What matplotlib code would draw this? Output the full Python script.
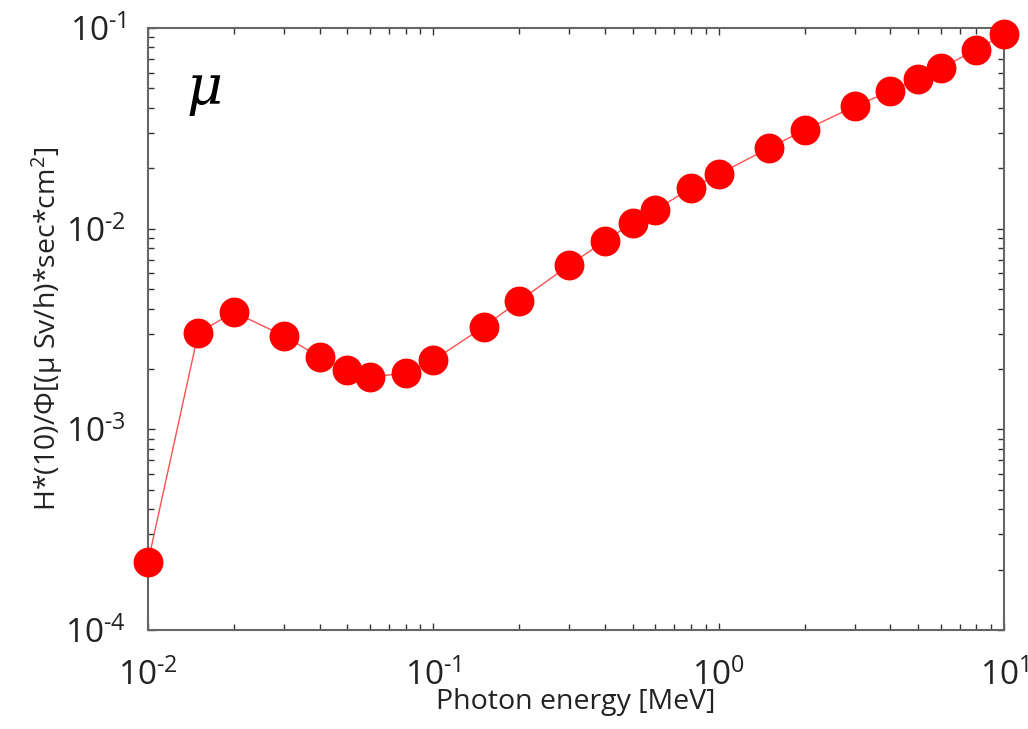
import matplotlib.pyplot as plt
from matplotlib.ticker import LogLocator, FuncFormatter, NullFormatter
import numpy as np

plt.rcParams['font.family'] = ['Open Sans', 'DejaVu Sans']
plt.rcParams['mathtext.fontset'] = 'custom'
plt.rcParams['mathtext.rm'] = 'Open Sans'
plt.rcParams['mathtext.it'] = 'Open Sans:italic'

# photon energy [MeV] and H*(10)/Phi conversion coefficients
energy = [0.01, 0.015, 0.02, 0.03, 0.04, 0.05, 0.06, 0.08, 0.1, 0.15, 0.2,
          0.3, 0.4, 0.5, 0.6, 0.8, 1, 1.5, 2, 3, 4, 5, 6, 8, 10]
coef = [2.18e-4, 3.02e-3, 3.84e-3, 2.92e-3, 2.29e-3, 1.97e-3, 1.82e-3, 1.91e-3,
        2.21e-3, 3.24e-3, 4.36e-3, 6.6e-3, 8.7e-3, 1.07e-2, 1.24e-2, 1.59e-2,
        1.87e-2, 2.52e-2, 3.1e-2, 4.07e-2, 4.85e-2, 5.6e-2, 6.3e-2, 7.8e-2, 9.3e-2]

fig = plt.figure(figsize=(10.28, 7.29), dpi=100)
ax = fig.add_axes([148/1028, 1 - 630/729, (1004 - 148)/1028, (630 - 28)/729])

ax.plot(energy, coef, '-', color='#ff5050', lw=1, zorder=2, clip_on=False)
ax.plot(energy, coef, 'o', color='#ff0000', ms=21.5, mec='none', zorder=3, clip_on=False)

ax.set_xscale('log')
ax.set_yscale('log')
ax.set_xlim(1e-2, 1e1)
ax.set_ylim(1e-4, 1e-1)


def pow_label(v, pos):
    e = round(np.log10(v))
    s = ('\\text{-}%d' % -e) if e < 0 else '%d' % e
    return r'$\mathregular{10^{%s}}$' % s


fmt = FuncFormatter(pow_label)
for a in (ax.xaxis, ax.yaxis):
    a.set_major_locator(LogLocator(base=10))
    a.set_minor_locator(LogLocator(base=10, subs=np.arange(2, 10)))
    a.set_major_formatter(fmt)
    a.set_minor_formatter(NullFormatter())

ax.tick_params(which='both', direction='in', top=True, right=True,
               color='#333333', labelsize=24, labelcolor='#222222')
ax.tick_params(which='major', length=5, width=1)
ax.tick_params(which='minor', length=4, width=1)
ax.tick_params(axis='x', pad=21)
ax.tick_params(axis='y', pad=16)
for s in ax.spines.values():
    s.set_color('#666666')
    s.set_linewidth(1.5)

ax.set_xlabel('Photon energy [MeV]', fontsize=20.5, color='#222222', va='center')
ax.xaxis.set_label_coords(0.5, -0.12)
ax.set_ylabel(r'H*(10)/Φ[(μ Sv/h)*sec*cm$\mathregular{^2}$]', fontsize=20.5,
              color='#222222', labelpad=0)

ax.text(0.045, 0.9, 'μ', transform=ax.transAxes, fontsize=40, style='italic',
        family='DejaVu Serif', ha='left', va='center')

fig.savefig('out.png', dpi=100)
